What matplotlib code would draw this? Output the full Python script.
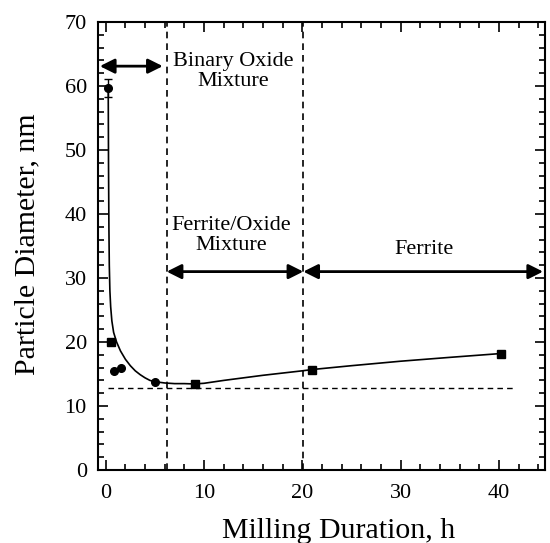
import matplotlib.pyplot as plt
from matplotlib.ticker import MultipleLocator

plt.rcParams["font.family"] = ["Liberation Serif", "DejaVu Serif"]

# measured particle diameters (nm) vs milling time (h)
milling_h = [0.25, 0.55, 0.8, 1.5, 5.0, 9.1, 21.0, 40.2]
diameter_nm = [59.7, 20.0, 15.5, 15.9, 13.8, 13.4, 15.7, 18.2]
marker_shape = ["o", "s", "o", "o", "o", "s", "s", "s"]
err_first = 1.4

# smoothed trend through the measurements
trend_h = [0.25, 0.28, 0.32, 0.36, 0.42, 0.5, 0.62, 0.8, 1.1, 1.5, 2.0, 2.5,
           3.0, 3.5, 4.0, 4.5, 5.0, 6.0, 7.0, 8.0, 9.0, 10.0, 12.0, 14.0,
           16.0, 18.0, 20.0, 21.0, 25.0, 30.0, 35.0, 40.2]
trend_nm = [59.7, 48.0, 38.0, 32.0, 28.0, 25.5, 23.3, 21.5, 20.0, 18.6, 17.3,
            16.3, 15.5, 14.9, 14.4, 14.0, 13.8, 13.6, 13.5, 13.5, 13.45, 13.55,
            14.0, 14.4, 14.8, 15.15, 15.5, 15.7, 16.3, 17.0, 17.6, 18.2]

limit_nm = 12.8
limit_span = [0.2, 41.5]
phase_edges = [6.2, 20.1]
x_max = 44.7

fig = plt.figure(figsize=(5.5, 5.43), dpi=100)
ax = fig.add_axes([0.178, 0.1344, 0.813, 0.8251])

ax.plot(trend_h, trend_nm, color="black", lw=1.2)
for x, y, m in zip(milling_h, diameter_nm, marker_shape):
    ax.plot(x, y, marker=m, color="black", ms=5.5, ls="none")
ax.errorbar(milling_h[0], diameter_nm[0], yerr=err_first, fmt="none",
            ecolor="black", elinewidth=1.0, capsize=3)

dash = (0, (4, 3))
ax.plot(limit_span, [limit_nm, limit_nm], color="black", lw=1.0, ls=dash)
for xe in phase_edges:
    ax.plot([xe, xe], [0, 70], color="black", lw=1.2, ls=dash)

arrow = dict(arrowstyle="<|-|>", color="black", lw=2.0, mutation_scale=22,
             shrinkA=0, shrinkB=0)
ax.annotate("", xy=(-0.6, 63.1), xytext=(phase_edges[0] - 0.4, 63.1),
            arrowprops=arrow)
ax.annotate("", xy=(phase_edges[0], 31.0), xytext=(phase_edges[1], 31.0),
            arrowprops=arrow)
ax.annotate("", xy=(phase_edges[1], 31.0), xytext=(x_max - 0.2, 31.0),
            arrowprops=arrow)

ax.text(13.0, 62.3, "Binary Oxide\nMixture", ha="center", va="center",
        fontsize=16, linespacing=1.08)
ax.text(12.8, 36.6, "Ferrite/Oxide\nMixture", ha="center", va="center",
        fontsize=16, linespacing=1.1)
ax.text(32.4, 34.4, "Ferrite", ha="center", va="center", fontsize=16)

ax.set_xlim(-0.8, x_max)
ax.set_ylim(0, 70)
ax.xaxis.set_major_locator(MultipleLocator(10))
ax.xaxis.set_minor_locator(MultipleLocator(2))
ax.yaxis.set_major_locator(MultipleLocator(10))
ax.yaxis.set_minor_locator(MultipleLocator(2))
ax.tick_params(which="both", direction="in", top=True, right=True,
               width=1.2, labelsize=16)
ax.tick_params(which="major", length=7)
ax.tick_params(which="minor", length=4)
ax.tick_params(axis="y", pad=8)
ax.tick_params(axis="x", pad=10)
for s in ax.spines.values():
    s.set_linewidth(1.5)

ax.set_xlabel("Milling Duration, h", fontsize=21.5)
ax.set_ylabel("Particle Diameter, nm", fontsize=21.5)
ax.xaxis.set_label_coords(0.539, -0.106)
ax.yaxis.set_label_coords(-0.128, 0.505)

fig.savefig("out.png", dpi=100)
